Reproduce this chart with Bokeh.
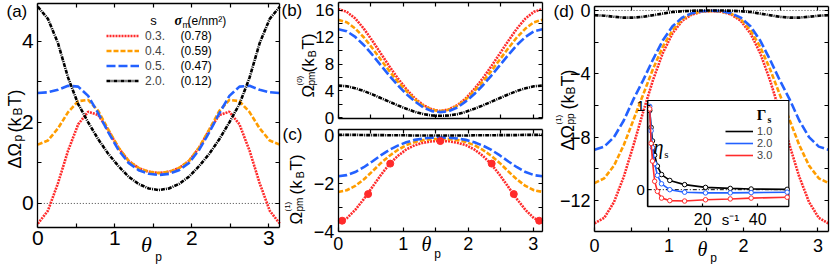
import math
from bokeh.plotting import figure
from bokeh.models import Range1d, LinearAxis, FixedTicker, Label, Legend, LegendItem
from bokeh.embed import file_html
from bokeh.resources import INLINE

# ---------------- data ----------------
theta = [0.000, 0.131, 0.262, 0.393, 0.524, 0.654, 0.785, 0.916, 1.047, 1.178, 1.309, 1.440, 1.571,
         1.702, 1.833, 1.963, 2.094, 2.225, 2.356, 2.487, 2.618, 2.749, 2.880, 3.011, 3.142]

s_labels = ["0.3.", "0.4.", "0.5.", "2.0."]
sigma_labels = ["(0.78)", "(0.59)", "(0.47)", "(0.12)"]

a_red = [-0.50, -0.18, 0.50, 1.30, 1.95, 2.26, 2.18, 1.80, 1.37, 1.05, 0.87, 0.78, 0.75,
         0.78, 0.87, 1.05, 1.37, 1.80, 2.18, 2.26, 1.95, 1.30, 0.50, -0.18, -0.50]
a_orange = [1.45, 1.55, 1.85, 2.25, 2.52, 2.55, 2.28, 1.82, 1.38, 1.05, 0.87, 0.78, 0.75,
            0.78, 0.87, 1.05, 1.38, 1.82, 2.28, 2.55, 2.52, 2.25, 1.85, 1.55, 1.45]
a_blue = [2.72, 2.74, 2.80, 2.90, 2.88, 2.65, 2.22, 1.75, 1.32, 1.00, 0.82, 0.73, 0.70,
          0.73, 0.82, 1.00, 1.32, 1.75, 2.22, 2.65, 2.88, 2.90, 2.80, 2.74, 2.72]
a_black = [4.85, 4.55, 3.95, 3.10, 2.45, 2.00, 1.58, 1.22, 0.92, 0.66, 0.48, 0.37, 0.33,
           0.37, 0.48, 0.66, 0.92, 1.22, 1.58, 2.00, 2.45, 3.10, 3.95, 4.55, 4.85]

b_red = [16.2, 15.8, 14.8, 13.3, 11.5, 9.6, 7.7, 5.9, 4.3, 2.9, 1.9, 1.25, 1.0,
         1.25, 1.9, 2.9, 4.3, 5.9, 7.7, 9.6, 11.5, 13.3, 14.8, 15.8, 16.2]
b_orange = [14.6, 14.25, 13.3, 12.0, 10.4, 8.7, 7.0, 5.4, 4.0, 2.75, 1.8, 1.2, 1.0,
            1.2, 1.8, 2.75, 4.0, 5.4, 7.0, 8.7, 10.4, 12.0, 13.3, 14.25, 14.6]
b_blue = [13.2, 12.9, 12.05, 10.85, 9.4, 7.85, 6.3, 4.85, 3.55, 2.45, 1.55, 1.0, 0.85,
          1.0, 1.55, 2.45, 3.55, 4.85, 6.3, 7.85, 9.4, 10.85, 12.05, 12.9, 13.2]
b_black = [4.8, 4.7, 4.4, 4.0, 3.5, 2.95, 2.4, 1.85, 1.35, 0.9, 0.55, 0.35, 0.3,
           0.35, 0.55, 0.9, 1.35, 1.85, 2.4, 2.95, 3.5, 4.0, 4.4, 4.7, 4.8]

c_red = [-3.60, -3.45, -3.10, -2.65, -2.15, -1.65, -1.20, -0.85, -0.58, -0.40, -0.30, -0.24, -0.22,
         -0.24, -0.30, -0.40, -0.58, -0.85, -1.20, -1.65, -2.15, -2.65, -3.10, -3.45, -3.60]
c_orange = [-2.35, -2.28, -2.10, -1.83, -1.50, -1.15, -0.85, -0.60, -0.40, -0.27, -0.19, -0.15, -0.14,
            -0.15, -0.19, -0.27, -0.40, -0.60, -0.85, -1.15, -1.50, -1.83, -2.10, -2.28, -2.35]
c_blue = [-1.70, -1.65, -1.52, -1.32, -1.08, -0.83, -0.60, -0.42, -0.28, -0.18, -0.12, -0.09, -0.08,
          -0.09, -0.12, -0.18, -0.28, -0.42, -0.60, -0.83, -1.08, -1.32, -1.52, -1.65, -1.70]
c_black = [0.03, 0.03, 0.03, 0.02, 0.02, 0.02, 0.01, 0.01, 0.01, 0.00, 0.00, 0.00, 0.00,
           0.00, 0.00, 0.00, 0.01, 0.01, 0.01, 0.02, 0.02, 0.02, 0.03, 0.03, 0.03]
c_mark_theta = [0.06, 0.46, 0.80, 1.57, 2.36, 2.70, 3.09]
c_mark_red = [-3.55, -2.44, -1.17, -0.23, -1.17, -2.44, -3.55]

d_red = [-13.45, -13.1, -12.1, -10.5, -8.5, -6.4, -4.4, -2.7, -1.45, -0.65, -0.25, -0.08, -0.04,
         -0.08, -0.25, -0.65, -1.45, -2.7, -4.4, -6.4, -8.5, -10.5, -12.1, -13.1, -13.45]
d_orange = [-10.9, -10.6, -9.8, -8.5, -6.9, -5.3, -3.7, -2.3, -1.25, -0.55, -0.2, -0.06, -0.03,
            -0.06, -0.2, -0.55, -1.25, -2.3, -3.7, -5.3, -6.9, -8.5, -9.8, -10.6, -10.9]
d_blue = [-8.8, -8.6, -8.0, -6.95, -5.6, -4.4, -3.1, -1.9, -1.0, -0.45, -0.17, -0.05, -0.02,
          -0.05, -0.17, -0.45, -1.0, -1.9, -3.1, -4.4, -5.6, -6.95, -8.0, -8.6, -8.8]
d_black = [-0.30, -0.33, -0.40, -0.45, -0.45, -0.40, -0.30, -0.20, -0.10, -0.05, -0.02, 0.00, 0.00,
           0.00, -0.02, -0.05, -0.10, -0.20, -0.30, -0.40, -0.45, -0.45, -0.40, -0.33, -0.30]

gamma_labels = ["1.0", "2.0", "3.0"]
inset_s = [0.7, 1.2, 1.7, 2.5, 3.5, 5.0, 8.0, 13.4, 21.0, 30.0, 37.6, 50.7]
eta_g1 = [0.94, 0.74, 0.58, 0.41, 0.28, 0.18, 0.11, 0.06, 0.027, 0.015, 0.008, 0.004]
eta_g2 = [0.99, 0.70, 0.50, 0.31, 0.17, 0.07, 0.00, -0.03, -0.038, -0.038, -0.035, -0.03]
eta_g3 = [0.96, 0.55, 0.34, 0.10, -0.02, -0.10, -0.13, -0.135, -0.12, -0.11, -0.10, -0.09]

# ---------------- styling ----------------
FONT = "Liberation Sans"
SERIF = "Liberation Serif"
RED = "#ff2b2b"
ORANGE = "#ff9d00"
BLUE = "#2361ff"
BLACK = "#000000"
LW = 2.6
STY = [(RED, "2 1"), (ORANGE, "5 2"), (BLUE, "9 3"), (BLACK, "4 1 1 1")]
PI = math.pi
W, H = 830, 264

p = figure(width=W, height=H, x_range=Range1d(0, W), y_range=Range1d(H, 0), min_border=0,
           x_axis_type=None, y_axis_type=None, output_backend="svg", toolbar_location=None)
p.outline_line_color = None
p.background_fill_color = "white"
p.border_fill_color = "white"

XR, YR = {}, {}
LIMS = {}


def panel(name, box, xlim, ylim):
    L, R, T, B = box
    x0, x1 = xlim
    y0, y1 = ylim
    sx = (R - L) / (x1 - x0)
    sy = (B - T) / (y1 - y0)
    XR[name] = Range1d(x0 - L / sx, x1 + (W - R) / sx)
    YR[name] = Range1d(y0 - (H - B) / sy, y1 + T / sy)
    LIMS[name] = (xlim, ylim)


def axis(name, side, ticks, minor, labels=False, fs="18px", so=4, tick_in=4, line=True):
    (x0, x1), (y0, y1) = LIMS[name]
    if side in ("below", "above"):
        loc, bounds = (y0 if side == "below" else y1), (x0, x1)
    else:
        loc, bounds = (x0 if side == "left" else x1), (y0, y1)
    ax = LinearAxis(x_range_name=name, y_range_name=name, fixed_location=loc, bounds=bounds,
                    ticker=FixedTicker(ticks=ticks, minor_ticks=minor))
    ax.axis_line_color = "black" if line else None
    ax.axis_line_width = 1.3
    ax.major_tick_line_color = "black"
    ax.minor_tick_line_color = "black"
    ax.major_tick_line_width = 1.2
    ax.minor_tick_line_width = 1.2
    ax.major_tick_in = tick_in
    ax.major_tick_out = 0
    ax.minor_tick_in = tick_in
    ax.minor_tick_out = 0
    if labels:
        ax.major_label_text_font = FONT
        ax.major_label_text_font_size = fs
        ax.major_label_text_color = "black"
        ax.major_label_standoff = so
    else:
        ax.major_label_text_color = None
        ax.major_label_text_alpha = 0
        ax.major_label_standoff = 0
    p.add_layout(ax, side)


def frame_axes(name, xt, xm, yt, ym, xlab, fs, xso, yso=4, yfs=None):
    axis(name, "below", xt, xm, labels=xlab, fs=fs, so=xso)
    axis(name, "above", xt, xm)
    axis(name, "left", yt, ym, labels=True, fs=yfs or fs, so=yso)
    axis(name, "right", yt, ym)


def txt(x, y, text, size, font=FONT, style="normal", align="left", baseline="middle", angle=0.0):
    p.add_layout(Label(x=x, y=y, x_units="canvas", y_units="canvas", text=text, text_font=font,
                       text_font_size=f"{size}px", text_font_style=style, text_align=align,
                       text_baseline=baseline, angle=angle, text_color="black"))


def vlabel(pieces):
    for text, size, bx, sy in pieces:
        txt(bx, sy, text, size, align="left", baseline="alphabetic", angle=PI / 2)


X_T, X_M = [0, 1, 2, 3], [0.5, 1.5, 2.5]

# panel boxes in canvas pixels: (left, right, top, bottom)
panel("a", (37.3, 279.3, 3.3, 227.3), (0, PI), (-0.6, 4.92))
panel("b", (337.7, 542, 2.0, 118), (0, PI), (-0.1, 17.18))
panel("c", (337.7, 542, 129.3, 231), (0, PI), (-4.0, 0.24))
panel("d", (594, 828, 6, 231), (0, PI), (-13.96, 0.25))
panel("i", (647.3, 788.3, 100, 206), (0, 51.3), (-0.2, 1.06))
p.extra_x_ranges = XR
p.extra_y_ranges = YR

# ---------------- panel (a) ----------------
p.line([0, PI], [0, 0], line_color="#444444", line_width=1, line_dash="1 2",
       x_range_name="a", y_range_name="a")
ra = []
for ys, (c, d) in zip([a_red, a_orange, a_blue, a_black], STY):
    ra.append(p.line(theta, ys, line_color=c, line_dash=d, line_width=LW,
                     x_range_name="a", y_range_name="a"))
frame_axes("a", X_T, X_M, [0, 2, 4], [1, 3], True, "21px", xso=3)
leg = Legend(items=[LegendItem(label=l, renderers=[r]) for l, r in zip(s_labels, ra)],
             location=(106, 176), glyph_width=33, glyph_height=15, label_height=15,
             label_standoff=6, spacing=0, padding=0, margin=0, border_line_alpha=0,
             background_fill_alpha=0, label_text_font=FONT, label_text_font_size="12px")
p.add_layout(leg)
for i, sl in enumerate(sigma_labels):
    txt(180, 35 + 15 * i, sl, 12)
txt(153, 20, "s", 13, align="center")
txt(174, 20, "σ", 14, font=SERIF, style="bold italic")
txt(182, 24, "m", 9)
txt(187, 20, "(e/nm²)", 12)
txt(6, 11, "(a)", 17)
vlabel([("ΔΩ", 18, 14, 168), ("p", 12, 17.5, 141), ("(k", 18, 14, 132),
        ("B", 12, 17.5, 115), ("T)", 18, 14, 106)])
txt(146, 244, "θ", 22, font=SERIF, style="italic", align="center")
txt(158, 256, "p", 12, align="center")

# ---------------- panel (b) ----------------
for ys, (c, d) in zip([b_red, b_orange, b_blue, b_black], STY):
    p.line(theta, ys, line_color=c, line_dash=d, line_width=LW, x_range_name="b", y_range_name="b")
frame_axes("b", X_T, X_M, [0, 4, 8, 12, 16], [2, 6, 10, 14], False, "17px", xso=4)
txt(281, 10, "(b)", 17)
vlabel([("Ω", 17, 308, 97), ("pm", 10, 311, 85), ("(0)", 8, 299, 85),
        ("(k", 17, 308, 72), ("B", 11, 311, 57), ("T)", 17, 308, 49)])

# ---------------- panel (c) ----------------
for ys, (c, d) in zip([c_red, c_orange, c_blue, c_black], STY):
    p.line(theta, ys, line_color=c, line_dash=d, line_width=LW, x_range_name="c", y_range_name="c")
p.scatter(c_mark_theta, c_mark_red, size=7, fill_color=RED, line_color=RED,
          x_range_name="c", y_range_name="c")
frame_axes("c", X_T, X_M, [-4, -2, 0], [-3, -1], True, "18px", xso=5)
txt(282, 134, "(c)", 17)
vlabel([("Ω", 17, 296, 224), ("pm", 10, 299, 211), ("(1)", 8, 287, 211),
        ("(k", 17, 296, 194), ("B", 11, 299, 178), ("T)", 17, 296, 170)])
txt(426, 243, "θ", 20, font=SERIF, style="italic", align="center")
txt(437, 253, "p", 12, align="center")

# ---------------- panel (d) ----------------
p.line([0, PI], [0, 0], line_color="#444444", line_width=1, line_dash="1 2",
       x_range_name="d", y_range_name="d")
for ys, (c, d) in zip([d_red, d_orange, d_blue, d_black], STY):
    p.line(theta, ys, line_color=c, line_dash=d, line_width=LW, x_range_name="d", y_range_name="d")
frame_axes("d", X_T, X_M, [-12, -8, -4, 0], [-10, -6, -2], True, "18px", xso=7)
txt(553, 11, "(d)", 17)
vlabel([("ΔΩ", 18, 567, 150), ("pp", 10, 570, 124), ("(1)", 8, 558, 124),
        ("(k", 18, 567, 109), ("B", 12, 570.5, 94), ("T)", 18, 567, 86)])
txt(702, 248, "θ", 20, font=SERIF, style="italic", align="center")
txt(713, 257, "p", 12, align="center")

# ---------------- inset of (d) ----------------
(ix0, ix1), (iy0, iy1) = LIMS["i"]
p.quad(left=ix0, right=ix1, bottom=iy0, top=iy1, fill_color="white", line_color="black",
       line_width=1.2, x_range_name="i", y_range_name="i")
p.line([ix0, ix1], [0, 0], line_color="black", line_width=1, line_dash="4 2 1 2",
       x_range_name="i", y_range_name="i")
ri = []
for ys, c in zip([eta_g1, eta_g2, eta_g3], [BLACK, BLUE, RED]):
    ri.append(p.line(inset_s, ys, line_color=c, line_width=1.6, x_range_name="i", y_range_name="i"))
    p.scatter(inset_s, ys, size=4.5, fill_color="white", line_color=c, line_width=1,
              x_range_name="i", y_range_name="i")
axis("i", "left", [0, 1], [], labels=True, fs="15px", so=3, tick_in=3)
axis("i", "below", [20, 40], [], labels=True, fs="16px", so=6, tick_in=3)
leg2 = Legend(items=[LegendItem(label=l, renderers=[r]) for l, r in zip(gamma_labels, ri)],
              location=(725, 103), glyph_width=28, glyph_height=10, label_height=10,
              label_standoff=4, spacing=-2, padding=0, margin=0, border_line_alpha=0,
              background_fill_alpha=0, label_text_font=FONT, label_text_font_size="11px")
p.add_layout(leg2)
txt(730, 219, "s⁻¹", 15, align="center")
txt(658, 146, "η", 20, font=SERIF, style="italic", align="center")
txt(666, 153, "s", 11, font=SERIF, align="center")
txt(761, 114, "Γ", 15, font=SERIF, style="bold", align="center")
txt(769, 119, "s", 10, font=SERIF, style="bold", align="center")

open("out.html", "w").write(file_html(p, INLINE))
